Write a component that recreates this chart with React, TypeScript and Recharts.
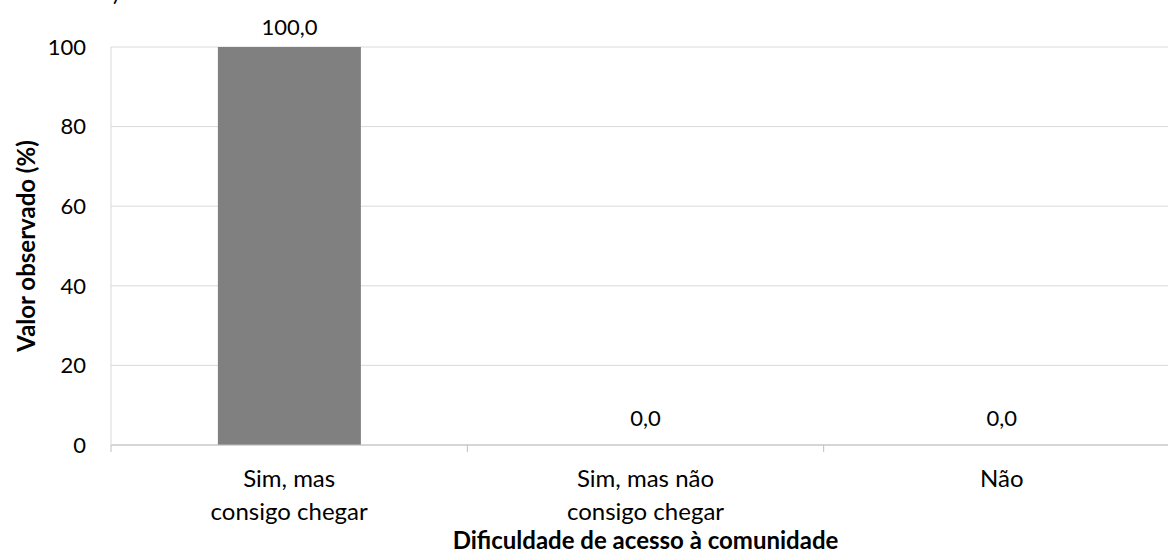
import { BarChart, Bar, XAxis, YAxis, CartesianGrid, LabelList, Label } from "recharts";

const CATEGORIES = ["Sim, mas\nconsigo chegar", "Sim, mas não\nconsigo chegar", "Não"];
const VALUES = [100, 0, 0];
const Y_TICKS = [0, 20, 40, 60, 80, 100];

const data = CATEGORIES.map((name, i) => ({ name, value: VALUES[i] }));

const FONT = "Lato, 'Open Sans', sans-serif";
const CHART_W = 1190;
const CHART_H = 555;
const MARGIN = { top: 47, right: 10, left: 10, bottom: 0 };
const Y_AXIS_W = 101;
const BAND = (CHART_W - MARGIN.left - MARGIN.right - Y_AXIS_W) / CATEGORIES.length;

const fmt = (v: number) => v.toFixed(1).replace(".", ",");

function CategoryTick(props: any) {
  const { x, y, payload, index } = props;
  const lines = String(payload.value).split("\n");
  const v = VALUES[index];
  return (
    <g>
      <line x1={x - BAND / 2} x2={x - BAND / 2} y1={y} y2={y + 7} stroke="#bfbfbf" />
      {index === CATEGORIES.length - 1 && (
        <line x1={x + BAND / 2} x2={x + BAND / 2} y1={y} y2={y + 7} stroke="#bfbfbf" />
      )}
      {/* zero-height bars get no LabelList entry, so their label sits here on the baseline */}
      {v === 0 && (
        <text x={x} y={y - 19} textAnchor="middle" fill="#000" fontSize={22} fontFamily={FONT}>
          {fmt(v)}
        </text>
      )}
      <text x={x} y={y} textAnchor="middle" fill="#000" fontSize={24} fontFamily={FONT}>
        {lines.map((l, i) => (
          <tspan key={i} x={x} y={y + 42 + i * 33}>
            {l}
          </tspan>
        ))}
      </text>
    </g>
  );
}

function ValueLabel(props: any) {
  const { x, y, width, value } = props;
  if (!value) return null;
  return (
    <text x={x + width / 2} y={y - 12} textAnchor="middle" fill="#000" fontSize={22} fontFamily={FONT}>
      {fmt(Number(value))}
    </text>
  );
}

function YTitle(props: any) {
  const { x, y, height } = props.viewBox;
  const cx = x + 15;
  const cy = y + height / 2;
  return (
    <text
      x={cx}
      y={cy}
      transform={`rotate(-90, ${cx}, ${cy})`}
      textAnchor="middle"
      dominantBaseline="central"
      fontWeight="bold"
      fontSize={24}
      fontFamily={FONT}
      fill="#000"
    >
      Valor observado (%)
    </text>
  );
}

function XTitle(props: any) {
  const { x, y, width } = props.viewBox;
  return (
    <text x={x + width / 2} y={y + 104} textAnchor="middle" fontWeight="bold" fontSize={24} fontFamily={FONT} fill="#000">
      Dificuldade de acesso à comunidade
    </text>
  );
}

export default function App() {
  return (
    <div
      style={{
        position: "absolute",
        left: 0,
        top: 0,
        width: 1168,
        height: 555,
        overflow: "hidden",
        background: "#fff",
        fontFamily: FONT,
      }}
    >
      <svg width={300} height={20} style={{ position: "absolute", left: 0, top: 0 }}>
        <text x={113} y={0.5} fontSize={22} fontFamily={FONT} fill="#000">
          )
        </text>
      </svg>
      <BarChart width={CHART_W} height={CHART_H} data={data} margin={MARGIN} barCategoryGap="30%">
        <CartesianGrid vertical={false} stroke="#d9d9d9" />
        <XAxis
          dataKey="name"
          height={110}
          interval={0}
          tick={<CategoryTick />}
          tickLine={false}
          tickSize={0}
          tickMargin={0}
          axisLine={{ stroke: "#bfbfbf" }}
        >
          <Label content={<XTitle />} />
        </XAxis>
        <YAxis
          width={Y_AXIS_W}
          domain={[0, 100]}
          ticks={Y_TICKS}
          tickLine={false}
          tickSize={0}
          tickMargin={25}
          axisLine={{ stroke: "#d9d9d9" }}
          tick={{ fill: "#000", fontSize: 22, fontFamily: FONT }}
        >
          <Label content={<YTitle />} />
        </YAxis>
        <Bar dataKey="value" fill="#808080" isAnimationActive={false}>
          <LabelList dataKey="value" content={<ValueLabel />} />
        </Bar>
      </BarChart>
    </div>
  );
}
